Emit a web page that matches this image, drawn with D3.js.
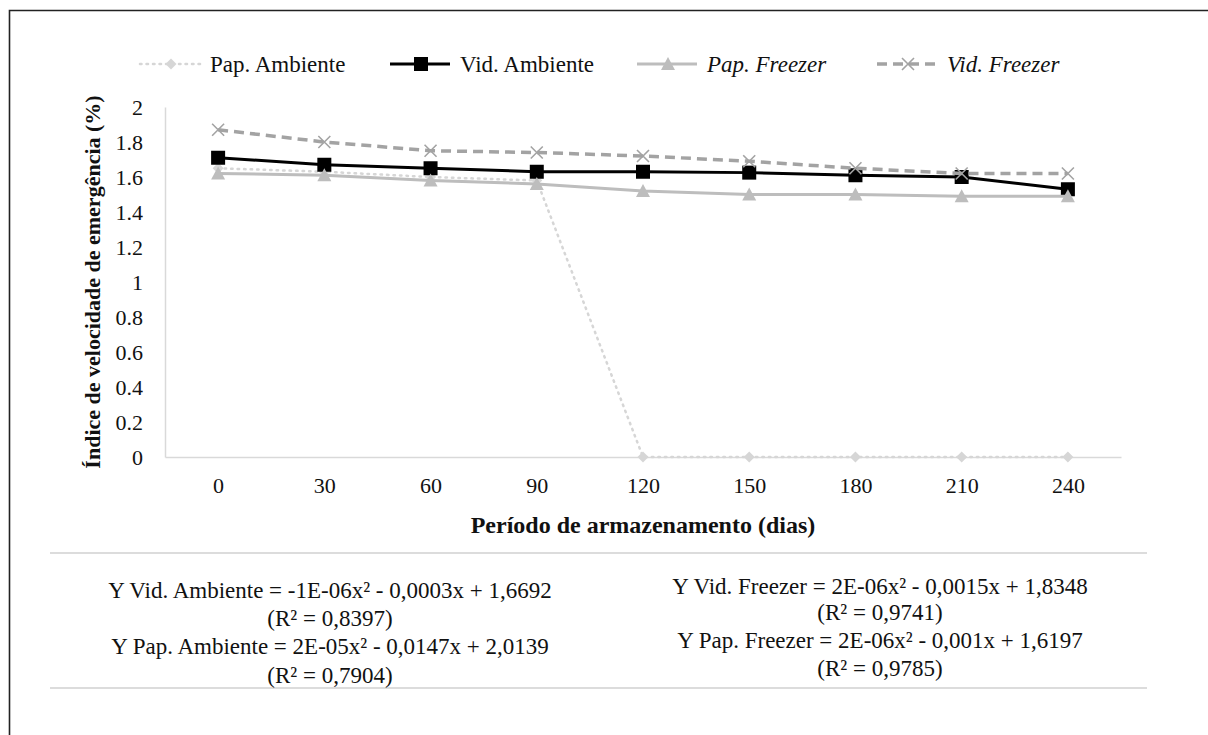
<!DOCTYPE html>
<html>
<head>
<meta charset="utf-8">
<script src="https://cdn.jsdelivr.net/npm/d3@7"></script>
<style>
  body { margin: 0; background: #fff; }
  text { font-family: "Liberation Serif", "Times New Roman", serif; fill: #111; }
</style>
</head>
<body>
<svg id="chart"></svg>
<script>
// storage period (days)
const categories = [0, 30, 60, 90, 120, 150, 180, 210, 240];
// emergence speed index per series
const papAmbiente = [1.65, 1.63, 1.60, 1.58, 0, 0, 0, 0, 0];
const vidAmbiente = [1.71, 1.67, 1.65, 1.63, 1.63, 1.625, 1.61, 1.60, 1.53];
const papFreezer = [1.62, 1.61, 1.58, 1.56, 1.52, 1.50, 1.50, 1.49, 1.49];
const vidFreezer = [1.87, 1.80, 1.75, 1.74, 1.72, 1.69, 1.65, 1.62, 1.62];
const yTicks = [0, 0.2, 0.4, 0.6, 0.8, 1, 1.2, 1.4, 1.6, 1.8, 2];
const seriesNames = ["Pap. Ambiente", "Vid. Ambiente", "Pap. Freezer", "Vid. Freezer"];
const leftEquations = [
  "Y Vid. Ambiente = -1E-06x² - 0,0003x + 1,6692",
  "(R² = 0,8397)",
  "Y Pap. Ambiente = 2E-05x² - 0,0147x + 2,0139",
  "(R² = 0,7904)"
];
const rightEquations = [
  "Y Vid. Freezer = 2E-06x² - 0,0015x + 1,8348",
  "(R² = 0,9741)",
  "Y Pap. Freezer = 2E-06x² - 0,001x + 1,6197",
  "(R² = 0,9785)"
];

const width = 1208, height = 735;
const margin = { top: 107, left: 165, right: 87, bottom: 278 };

const svg = d3.select("#chart")
  .attr("width", width)
  .attr("height", height);

// frame (only top and left edges visible in the original crop)
svg.append("path")
  .attr("d", `M9.5,${height} V10.5 H${width}`)
  .attr("fill", "none")
  .attr("stroke", "#222")
  .attr("stroke-width", 1.6);

const x = d3.scalePoint()
  .domain(categories)
  .range([margin.left, width - margin.right])
  .padding(0.5);

const y = d3.scaleLinear()
  .domain([0, 2])
  .range([height - margin.bottom, margin.top]);

// series styles
const series = [
  { name: seriesNames[0], values: papAmbiente, color: "#d6d6d6", width: 2.5, dash: "1.5,5", shape: "diamond", italic: false },
  { name: seriesNames[1], values: vidAmbiente, color: "#000", width: 3, dash: null, shape: "square", italic: false },
  { name: seriesNames[2], values: papFreezer, color: "#bdbdbd", width: 3, dash: null, shape: "triangle", italic: true },
  { name: seriesNames[3], values: vidFreezer, color: "#a3a3a3", width: 3.5, dash: "10,6", shape: "x", italic: true }
];

// axes
const yAxis = svg.append("g")
  .attr("transform", `translate(${margin.left},0)`)
  .call(d3.axisLeft(y).tickValues(yTicks).tickSize(0).tickPadding(22)
    .tickFormat(d => String(+d.toFixed(1))));
yAxis.select(".domain").attr("stroke", "#d9d9d9").attr("stroke-width", 1.5);
yAxis.selectAll("text").style("font-size", "22px").attr("fill", "#111");

const xAxis = svg.append("g")
  .attr("transform", `translate(0,${y(0)})`)
  .call(d3.axisBottom(x).tickSize(0).tickPadding(20));
xAxis.select(".domain").attr("stroke", "#d9d9d9").attr("stroke-width", 1.5);
xAxis.selectAll("text").style("font-size", "22px").attr("fill", "#111");

// axis titles
svg.append("text")
  .attr("transform", `translate(92, ${(y(0) + y(2)) / 2}) rotate(-90)`)
  .attr("text-anchor", "middle")
  .attr("dy", "0.35em")
  .style("font-size", "22px")
  .style("font-weight", "bold")
  .text("Índice de velocidade de emergência (%)");

svg.append("text")
  .attr("x", (margin.left + width - margin.right) / 2)
  .attr("y", 525)
  .attr("text-anchor", "middle")
  .attr("dy", "0.35em")
  .style("font-size", "24px")
  .style("font-weight", "bold")
  .text("Período de armazenamento (dias)");

function drawMarker(g, s, cx, cy) {
  if (s.shape === "square") {
    g.append("rect").attr("x", cx - 7).attr("y", cy - 7).attr("width", 14).attr("height", 14)
      .attr("fill", "#000");
  } else if (s.shape === "triangle") {
    g.append("path").attr("d", `M${cx},${cy - 7} L${cx + 7},${cy + 6} L${cx - 7},${cy + 6} Z`)
      .attr("fill", s.color);
  } else if (s.shape === "diamond") {
    g.append("path").attr("d", `M${cx},${cy - 5.5} L${cx + 5.5},${cy} L${cx},${cy + 5.5} L${cx - 5.5},${cy} Z`)
      .attr("fill", s.color);
  } else {
    g.append("path").attr("d", `M${cx - 6},${cy - 6} L${cx + 6},${cy + 6} M${cx + 6},${cy - 6} L${cx - 6},${cy + 6}`)
      .attr("stroke", s.color).attr("stroke-width", 1.6).attr("fill", "none");
  }
}

const line = d3.line()
  .x((d, i) => x(categories[i]))
  .y(d => y(d));

series.forEach(s => {
  const g = svg.append("g").attr("class", "series");
  g.append("path")
    .datum(s.values)
    .attr("d", line)
    .attr("fill", "none")
    .attr("stroke", s.color)
    .attr("stroke-width", s.width)
    .attr("stroke-dasharray", s.dash)
    .attr("stroke-linecap", s.dash && s.shape === "diamond" ? "round" : "butt");
  s.values.forEach((v, i) => drawMarker(g, s, x(categories[i]), y(v)));
});

// legend
const legendPos = [140, 390, 637, 877];
const legendY = 64;
series.forEach((s, i) => {
  const g = svg.append("g").attr("class", "legend");
  const x0 = legendPos[i];
  g.append("line")
    .attr("x1", x0).attr("x2", x0 + 60)
    .attr("y1", legendY).attr("y2", legendY)
    .attr("stroke", s.color)
    .attr("stroke-width", s.width)
    .attr("stroke-dasharray", s.dash)
    .attr("stroke-linecap", s.shape === "diamond" ? "round" : "butt");
  drawMarker(g, s, x0 + 31, legendY);
  g.append("text")
    .attr("x", x0 + 70)
    .attr("y", legendY)
    .attr("dy", "0.35em")
    .style("font-size", "23px")
    .style("font-style", s.italic ? "italic" : "normal")
    .text(s.name);
});

// equations block
svg.append("line")
  .attr("x1", 50).attr("x2", 1147)
  .attr("y1", 553).attr("y2", 553)
  .attr("stroke", "#dcdcdc").attr("stroke-width", 2);
svg.append("line")
  .attr("x1", 50).attr("x2", 1147)
  .attr("y1", 688).attr("y2", 688)
  .attr("stroke", "#dcdcdc").attr("stroke-width", 2);

const leftY = [590, 618, 646, 675];
const rightY = [586, 612, 640, 668];
leftEquations.forEach((t, i) => {
  svg.append("text")
    .attr("x", 330).attr("y", leftY[i])
    .attr("dy", "0.35em")
    .attr("text-anchor", "middle")
    .style("font-size", "23px")
    .text(t);
});
rightEquations.forEach((t, i) => {
  svg.append("text")
    .attr("x", 880).attr("y", rightY[i])
    .attr("dy", "0.35em")
    .attr("text-anchor", "middle")
    .style("font-size", "23px")
    .text(t);
});
</script>
</body>
</html>
